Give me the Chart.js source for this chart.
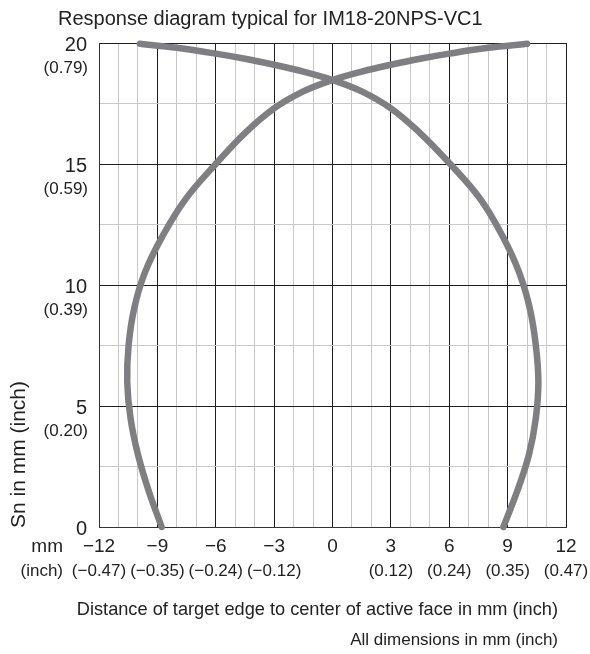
<!DOCTYPE html>
<html>
<head>
<meta charset="utf-8">
<script src="https://cdn.jsdelivr.net/npm/chart.js@4"></script>
<style>
  html, body { margin: 0; padding: 0; background: #fff; }
  #wrap { width: 590px; height: 654px; }
</style>
</head>
<body>
<div id="wrap"><canvas id="myChart" width="590" height="654"></canvas></div>
<script>
// response curves (mm)
const leftLobeX  = [-8.78, -9.45, -10.0, -10.38, -10.55, -10.48, -10.2, -9.65, -8.75, -7.55, -6.0, -4.5, -3.0, -1.5, 0, 1.5, 3.0, 4.5, 6.0, 8.0, 10.0];
const leftLobeY  = [0, 1.5, 3, 4.5, 6, 7.5, 9, 10.5, 12, 13.55, 15, 16.28, 17.3, 18.0, 18.47, 18.82, 19.1, 19.35, 19.56, 19.8, 19.97];
const rightLobeX = [-9.9, -8.0, -6.0, -4.5, -3.0, -1.5, 0, 1.5, 3.0, 4.5, 6.05, 7.6, 8.75, 9.6, 10.15, 10.45, 10.58, 10.45, 10.1, 9.5, 8.78];
const rightLobeY = [19.97, 19.8, 19.56, 19.35, 19.1, 18.82, 18.47, 18.0, 17.3, 16.28, 15, 13.55, 12, 10.5, 9, 7.5, 6, 4.5, 3, 1.5, 0];

// tick labels
const xTicks = [-12, -9, -6, -3, 0, 3, 6, 9, 12];
const xLabels = ['\u221212', '\u22129', '\u22126', '\u22123', '0', '3', '6', '9', '12'];
const xInch = ['(\u22120.47)', '(\u22120.35)', '(\u22120.24)', '(\u22120.12)', '', '(0.12)', '(0.24)', '(0.35)', '(0.47)'];
const yTicks = [0, 5, 10, 15, 20];
const yInch = ['', '(0.20)', '(0.39)', '(0.59)', '(0.79)'];

const FONT = '"Liberation Sans", Arial, sans-serif';
const curveColor = '#7f7f83';

function toPoints(xs, ys) {
  return xs.map((x, i) => ({x: x, y: ys[i]}));
}

const textPlugin = {
  id: 'textPlugin',
  afterDraw(chart) {
    const c = chart.ctx;
    const sx = chart.scales.x, sy = chart.scales.y;
    c.save();
    c.fillStyle = '#222';
    c.textBaseline = 'middle';

    // title
    c.font = '20px ' + FONT;
    c.textAlign = 'left';
    c.fillText('Response diagram typical for IM18-20NPS-VC1', 58, 19);

    // y ticks
    c.textAlign = 'right';
    yTicks.forEach((v, i) => {
      const py = sy.getPixelForValue(v);
      c.font = '20px ' + FONT;
      c.fillText(String(v), 87, py + 2);
      if (yInch[i]) {
        c.font = '17px ' + FONT;
        c.fillText(yInch[i], 88, py + 25);
      }
    });

    // x ticks
    c.textAlign = 'center';
    xTicks.forEach((v, i) => {
      const px = sx.getPixelForValue(v);
      c.font = '19px ' + FONT;
      c.fillText(xLabels[i], px, 547);
      if (xInch[i]) {
        c.font = '17px ' + FONT;
        c.fillText(xInch[i], px, 571);
      }
    });
    c.textAlign = 'right';
    c.font = '19px ' + FONT;
    c.fillText('mm', 63, 547);
    c.font = '17px ' + FONT;
    c.fillText('(inch)', 63, 571);

    // axis titles
    c.font = '18.2px ' + FONT;
    c.fillText('Distance of target edge to center of active face in mm (inch)', 558, 610);
    c.font = '17px ' + FONT;
    c.fillText('All dimensions in mm (inch)', 558, 640);

    c.translate(19, 528);
    c.rotate(-Math.PI / 2);
    c.textAlign = 'left';
    c.font = '21px ' + FONT;
    c.fillText('Sn in mm (inch)', 0, 0);
    c.restore();
  }
};

const ctx = document.getElementById('myChart');
const responseChart = new Chart(ctx, {
  type: 'scatter',
  data: {
    datasets: [{
      data: toPoints(leftLobeX, leftLobeY),
      showLine: true,
      borderColor: curveColor,
      borderWidth: 6.5,
      borderCapStyle: 'round',
      borderJoinStyle: 'round',
      pointRadius: 0,
      tension: 0.4,
      clip: false
    }, {
      data: toPoints(rightLobeX, rightLobeY),
      showLine: true,
      borderColor: curveColor,
      borderWidth: 6.5,
      borderCapStyle: 'round',
      borderJoinStyle: 'round',
      pointRadius: 0,
      tension: 0.4,
      clip: false
    }]
  },
  options: {
    responsive: false,
    animation: false,
    devicePixelRatio: 1,
    layout: { padding: { left: 99, top: 43, right: 24, bottom: 127 } },
    plugins: {
      legend: { display: false },
      tooltip: { enabled: false },
      title: { display: false }
    },
    scales: {
      x: {
        type: 'linear',
        min: -12, max: 12,
        ticks: { display: false, stepSize: 1 },
        grid: {
          drawTicks: false,
          lineWidth: 1,
          color: c => (c.tick && c.tick.value % 3 === 0) ? '#1e1e1e' : '#c8c8c8'
        },
        border: { color: '#333', width: 1 }
      },
      y: {
        type: 'linear',
        min: 0, max: 20,
        ticks: { display: false, stepSize: 2.5 },
        grid: {
          drawTicks: false,
          lineWidth: 1,
          color: c => (c.tick && c.tick.value % 5 === 0) ? '#1e1e1e' : '#c8c8c8'
        },
        border: { color: '#333', width: 1 }
      }
    }
  },
  plugins: [textPlugin]
});
</script>
</body>
</html>
